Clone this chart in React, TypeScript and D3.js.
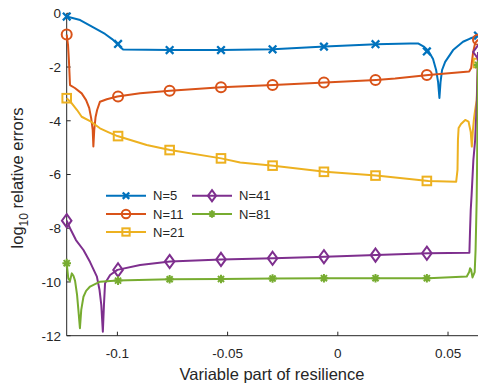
import React from "react";
import * as d3 from "d3";

type P = [number, number];

const seriesNames = ["N=5", "N=11", "N=21", "N=41", "N=81"];
const colors = ["#0072BD", "#D95319", "#EDB120", "#7E2F8E", "#77AC30"];
const shapes = ["x", "o", "s", "d", "*"];

const xTicks = [-0.1, -0.05, 0, 0.05];
const xTickLabels = ["-0.1", "-0.05", "0", "0.05"];
const yTicks = [0, -2, -4, -6, -8, -10, -12];

const markerX = [-0.123, -0.0997, -0.0763, -0.053, -0.0296, -0.0063, 0.0171, 0.0404, 0.0636];

const n5: P[] = [
  [-0.123, -0.12], [-0.1169, -0.25], [-0.1101, -0.56], [-0.1056, -0.77], [-0.1024, -0.96],
  [-0.1, -1.14], [-0.0988, -1.25], [-0.0974, -1.35], [-0.076, -1.37], [-0.0529, -1.37],
  [-0.0294, -1.34], [-0.0058, -1.24], [0.0174, -1.15], [0.0328, -1.12], [0.0364, -1.12],
  [0.0392, -1.25], [0.0411, -1.4], [0.0432, -1.7], [0.0446, -2.11], [0.0455, -2.56],
  [0.0461, -3.15], [0.0466, -2.56], [0.0473, -2.11], [0.0487, -1.81], [0.0523, -1.37],
  [0.0568, -1.06], [0.06, -0.94], [0.0636, -0.83],
];
const n5Markers = [-0.12, -1.14, -1.37, -1.37, -1.34, -1.24, -1.15, -1.42, -0.83];

const n11: P[] = [
  [-0.123, -0.79], [-0.1224, -1.18], [-0.122, -1.74], [-0.1215, -2.67], [-0.1193, -2.78],
  [-0.1162, -2.98], [-0.1142, -3.23], [-0.1128, -3.52], [-0.1119, -3.9], [-0.1112, -4.34],
  [-0.1109, -4.96], [-0.1105, -4.34], [-0.1099, -3.86], [-0.1092, -3.6], [-0.1079, -3.29],
  [-0.1048, -3.2], [-0.1, -3.1], [-0.0897, -2.98], [-0.0761, -2.88], [-0.0529, -2.75],
  [-0.0292, -2.67], [-0.0058, -2.58], [0.0174, -2.48], [0.026, -2.43], [0.0411, -2.3],
  [0.0596, -2.17], [0.0605, -2.04], [0.0614, -1.44], [0.0623, -1.11], [0.0636, -0.98],
];
const n11Markers = [-0.79, -3.1, -2.88, -2.75, -2.67, -2.58, -2.48, -2.3, -0.98];

const n21: P[] = [
  [-0.123, -3.16], [-0.1207, -3.35], [-0.1183, -3.6], [-0.1162, -3.85], [-0.1124, -4.01],
  [-0.1079, -4.28], [-0.1042, -4.42], [-0.1, -4.57], [-0.0867, -4.9], [-0.0761, -5.09],
  [-0.0529, -5.4], [-0.0443, -5.55], [-0.0292, -5.67], [-0.0058, -5.9], [0.0174, -6.04],
  [0.0411, -6.24], [0.0537, -6.27], [0.0543, -5.83], [0.0545, -4.72], [0.0548, -4.27],
  [0.0559, -4.12], [0.0578, -3.97], [0.0593, -4.03], [0.0603, -4.42], [0.0608, -4.96],
  [0.0613, -4.34], [0.0618, -3.9], [0.0623, -3.6], [0.063, -3.23], [0.0636, -1.85],
];
const n21Markers = [-3.16, -4.57, -5.09, -5.4, -5.67, -5.9, -6.04, -6.24, -1.85];

const n41: P[] = [
  [-0.123, -7.72], [-0.1215, -8.0], [-0.1188, -8.44], [-0.1154, -8.81], [-0.1124, -9.26],
  [-0.1093, -9.8], [-0.1081, -10.3], [-0.1073, -10.86], [-0.1066, -11.85], [-0.1061, -10.86],
  [-0.1056, -10.05], [-0.1033, -9.74], [-0.1, -9.55], [-0.0897, -9.37], [-0.0761, -9.24],
  [-0.0529, -9.16], [-0.0292, -9.12], [-0.0058, -9.06], [0.0174, -9.0], [0.0411, -8.93],
  [0.0597, -8.91], [0.06, -8.06], [0.0603, -7.32], [0.0607, -6.76], [0.0615, -5.46],
  [0.0623, -4.72], [0.0631, -3.23], [0.0636, -1.44],
];
const n41Markers = [-7.72, -9.55, -9.24, -9.16, -9.12, -9.06, -9.0, -8.93, -1.44];

const n81: P[] = [
  [-0.123, -9.3], [-0.1223, -9.86], [-0.1215, -9.96], [-0.1207, -9.68], [-0.1199, -9.78],
  [-0.1192, -9.96], [-0.1183, -10.48], [-0.1177, -11.04], [-0.117, -11.72], [-0.1164, -11.04],
  [-0.1154, -10.55], [-0.1142, -10.33], [-0.1124, -10.17], [-0.1079, -9.99], [-0.1, -9.95],
  [-0.0761, -9.9], [-0.0529, -9.89], [-0.0292, -9.87], [-0.0058, -9.86], [0.0174, -9.86],
  [0.0411, -9.86], [0.0585, -9.8], [0.0596, -9.63], [0.06, -9.49], [0.0605, -9.55],
  [0.0611, -9.83], [0.0621, -9.63], [0.0625, -8.81], [0.063, -6.95], [0.0632, -5.46],
  [0.0636, -1.92],
];
const n81Markers = [-9.3, -9.95, -9.9, -9.89, -9.87, -9.86, -9.86, -9.86, -1.92];

const allLines = [n5, n11, n21, n41, n81];
const allMarkers = [n5Markers, n11Markers, n21Markers, n41Markers, n81Markers];

const W = 478;
const H = 387;
const axisColor = "#262626";
const FONT = "'Liberation Sans', Arial, Helvetica, sans-serif";

function Marker({ shape, cx, cy, color, scale = 1 }: { shape: string; cx: number; cy: number; color: string; scale?: number }) {
  const sw = 2;
  if (shape === "x") {
    const r = 3.8 * scale;
    return (
      <path d={`M${cx - r},${cy - r}L${cx + r},${cy + r}M${cx - r},${cy + r}L${cx + r},${cy - r}`} stroke={color} strokeWidth={sw + 0.3} fill="none" />
    );
  }
  if (shape === "o") {
    return <circle cx={cx} cy={cy} r={5 * scale} stroke={color} strokeWidth={sw} fill="none" />;
  }
  if (shape === "s") {
    const r = 4.3 * scale;
    return <rect x={cx - r} y={cy - r} width={2 * r} height={2 * r} stroke={color} strokeWidth={sw} fill="none" />;
  }
  if (shape === "d") {
    const rx = 4.8 * scale;
    const ry = 6.6 * scale;
    return <path d={`M${cx},${cy - ry}L${cx + rx},${cy}L${cx},${cy + ry}L${cx - rx},${cy}Z`} stroke={color} strokeWidth={sw} fill="none" />;
  }
  const r = 4.3 * scale;
  const a = r * 0.707;
  return (
    <path
      d={`M${cx - r},${cy}L${cx + r},${cy}M${cx},${cy - r}L${cx},${cy + r}M${cx - a},${cy - a}L${cx + a},${cy + a}M${cx - a},${cy + a}L${cx + a},${cy - a}`}
      stroke={color}
      strokeWidth={sw}
      fill="none"
    />
  );
}

export default function App() {
  const x = d3.scaleLinear().domain([-0.123, 0.0636]).range([66.7, 478]);
  const y = d3.scaleLinear().domain([-12, 0]).range([335.7, 13.3]);
  const line = d3
    .line<P>()
    .x((d) => x(d[0]))
    .y((d) => y(d[1]));

  const legendItems = [
    { i: 0, lx: 106, ty: 195.7 },
    { i: 1, lx: 106, ty: 214 },
    { i: 2, lx: 106, ty: 232 },
    { i: 3, lx: 192, ty: 195.7 },
    { i: 4, lx: 192, ty: 214 },
  ];

  return (
    <div style={{ position: "absolute", left: 0, top: 0 }}>
      <svg width={W} height={H} style={{ display: "block", background: "#fff" }} fontFamily={FONT}>
        <line x1={x.range()[0]} x2={x.range()[0]} y1={y(0)} y2={y(-12)} stroke={axisColor} strokeWidth={1} />
        <line x1={x.range()[0]} x2={x.range()[1]} y1={y(-12)} y2={y(-12)} stroke={axisColor} strokeWidth={1} />
        {xTicks.map((t, i) => (
          <g key={"xt" + i}>
            <line x1={x(t)} x2={x(t)} y1={y(-12)} y2={y(-12) - 4} stroke={axisColor} strokeWidth={1} />
            <text x={x(t)} y={y(-12) + 22} textAnchor="middle" fontSize={13.5} fill={axisColor}>
              {xTickLabels[i]}
            </text>
          </g>
        ))}
        {yTicks.map((t, i) => (
          <g key={"yt" + i}>
            <line x1={x.range()[0]} x2={x.range()[0] + 4} y1={y(t)} y2={y(t)} stroke={axisColor} strokeWidth={1} />
            <text x={61} y={y(t) + 4.8} textAnchor="end" fontSize={13.5} fill={axisColor}>
              {String(t)}
            </text>
          </g>
        ))}
        <text x={272} y={380} textAnchor="middle" fontSize={16.5} fill={axisColor}>
          Variable part of resilience
        </text>
        <text transform="translate(22.5,178) rotate(-90)" textAnchor="middle" fontSize={16.5} fill={axisColor}>
          log
          <tspan fontSize={12} dy={5}>10</tspan>
          <tspan dy={-5}> relative errors</tspan>
        </text>

        {allLines.map((pts, i) => (
          <g key={"s" + i}>
            <path d={line(pts) || ""} stroke={colors[i]} strokeWidth={2} fill="none" strokeLinejoin="round" />
            {allMarkers[i].map((v, j) => (
              <Marker key={j} shape={shapes[i]} cx={x(markerX[j])} cy={y(v)} color={colors[i]} />
            ))}
          </g>
        ))}

        {legendItems.map(({ i, lx, ty }) => (
          <g key={"lg" + i}>
            <line x1={lx} x2={lx + 40} y1={ty} y2={ty} stroke={colors[i]} strokeWidth={2} />
            <Marker shape={shapes[i]} cx={lx + 20} cy={ty} color={colors[i]} scale={0.85} />
            <text x={lx + 47} y={ty + 4.7} fontSize={13} fill={axisColor}>
              {seriesNames[i]}
            </text>
          </g>
        ))}
      </svg>
    </div>
  );
}
